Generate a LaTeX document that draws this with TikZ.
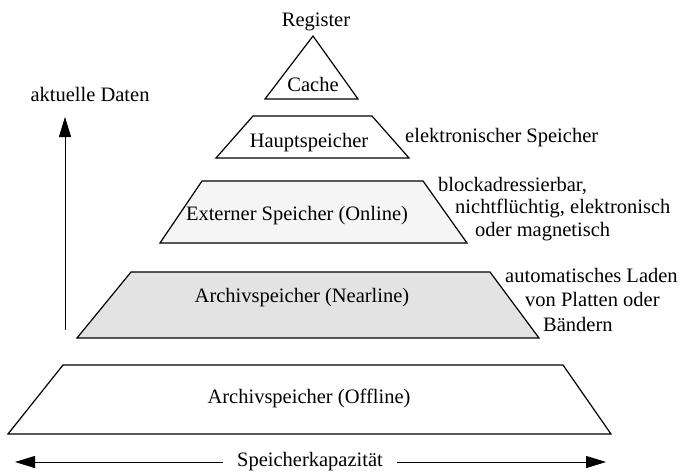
\documentclass[tikz,border=0pt]{standalone}
\usepackage{fontspec}
\setmainfont{Liberation Serif}
\usetikzlibrary{arrows.meta}
\begin{document}
\begin{tikzpicture}[x=1pt,y=-1pt,
  lbl/.style={inner sep=0pt,font=\fontsize{20.5}{24}\selectfont},
  shapeline/.style={draw=black,line width=1.2pt,line join=miter},
  arr/.style={line width=1pt,-{Triangle[length=20pt,width=12pt]}}]
\useasboundingbox (0,0) rectangle (683,474);
% shapes
\draw[shapeline] (313,36) -- (358,99) -- (265,99) -- cycle;
\draw[shapeline] (253,116) -- (372,116) -- (409,158) -- (216,158) -- cycle;
\draw[shapeline,fill=black!4] (202,181) -- (423,181) -- (467,243) -- (160,243) -- cycle;
\draw[shapeline,fill=black!11] (131,272) -- (490,272) -- (539,338) -- (77,338) -- cycle;
\draw[shapeline] (63,365) -- (563,365) -- (611,434) -- (8,434) -- cycle;
% texts in shapes
\node[lbl,anchor=base] (reg) at (316,26.7) {Register};
\node[lbl,anchor=base] (cache) at (313,91.7) {Cache};
\node[lbl,anchor=base] (haupt) at (309,147.3) {Hauptspeicher};
\node[lbl,anchor=base] (ext) at (297,220) {Externer Speicher (Online)};
\node[lbl,anchor=base] (near) at (302,302) {Archivspeicher (Nearline)};
\node[lbl,anchor=base] (off) at (309,403.3) {Archivspeicher (Offline)};
% side texts
\node[lbl,anchor=base west] (t1) at (405,142.3) {elektronischer Speicher};
\node[lbl,anchor=base west] (t2) at (438,191.7) {blockadressierbar,};
\node[lbl,anchor=base west] (t3) at (455,213.3) {nichtflüchtig, elektronisch};
\node[lbl,anchor=base west] (t4) at (475,236.7) {oder magnetisch};
\node[lbl,anchor=base west] (t5) at (505,282.3) {automatisches Laden};
\node[lbl,anchor=base west] (t6) at (525,306.7) {von Platten oder};
\node[lbl,anchor=base west] (t7) at (543,331.7) {Bändern};
% arrows
\node[lbl,anchor=base] (akt) at (90,101.7) {aktuelle Daten};
\coordinate (upB) at (65,330);
\coordinate (upT) at (65,117);
\draw[arr] (upB) -- (upT);
\node[lbl,anchor=base,inner xsep=14pt] (cap) at (310,466.7) {Speicherkapazität};
\coordinate (capL) at (15,462);
\coordinate (capR) at (606,462);
\draw[arr] (cap.west |- capL) -- (capL);
\draw[arr] (cap.east |- capR) -- (capR);
\end{tikzpicture}
\end{document}
